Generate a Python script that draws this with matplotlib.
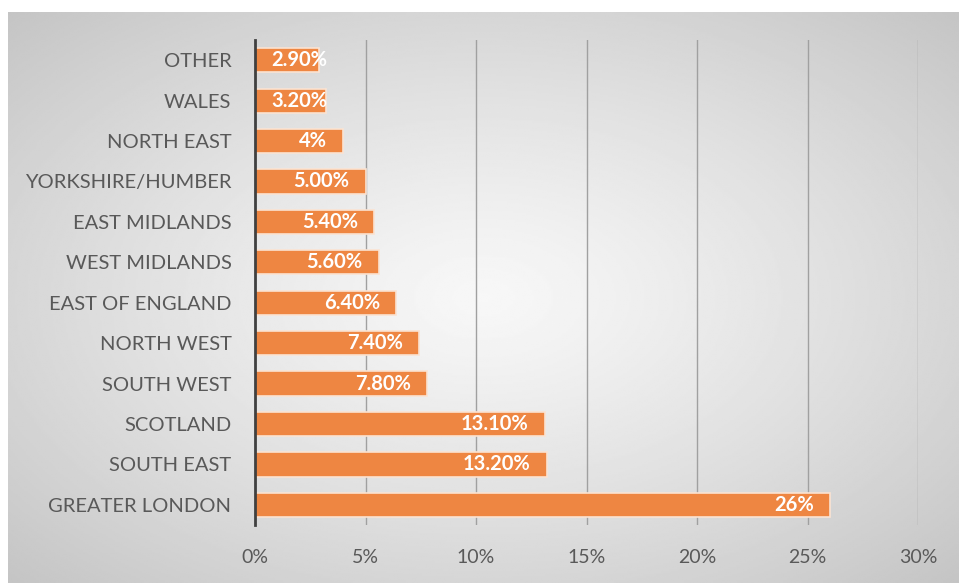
import numpy as np
import matplotlib.pyplot as plt

# regions, top to bottom as shown
regions = ["OTHER", "WALES", "NORTH EAST", "YORKSHIRE/HUMBER", "EAST MIDLANDS",
           "WEST MIDLANDS", "EAST OF ENGLAND", "NORTH WEST", "SOUTH WEST",
           "SCOTLAND", "SOUTH EAST", "GREATER LONDON"]
shares = [2.9, 3.2, 4.0, 5.0, 5.4, 5.6, 6.4, 7.4, 7.8, 13.1, 13.2, 26.0]
labels = ["2.90%", "3.20%", "4%", "5.00%", "5.40%", "5.60%", "6.40%",
          "7.40%", "7.80%", "13.10%", "13.20%", "26%"]
xticks = [0, 5, 10, 15, 20, 25, 30]

plt.rcParams['font.family'] = ['Lato', 'DejaVu Sans']

W, H = 959, 583
fig = plt.figure(figsize=(W / 100, H / 100), dpi=100)
fig.patch.set_facecolor("white")

# radial grey background
bg = fig.add_axes([8 / W, 0, 1 - 8 / W, 1 - 12 / H])
yy, xx = np.mgrid[0:1:300j, 0:1:500j]
r = np.sqrt(((xx - 0.5) / 0.5) ** 2 + ((yy - 0.5) / 0.5) ** 2) / np.sqrt(2)
bg.imshow(0.97 - 0.2 * r ** 1.2, cmap="gray", vmin=0, vmax=1,
          aspect="auto", extent=[0, 1, 0, 1])
bg.axis("off")

ax = fig.add_axes([255 / W, 1 - 525 / H, (918 - 255) / W, (525 - 40) / H])
ax.patch.set_alpha(0)
y = np.arange(len(regions))
ax.barh(y, shares, height=0.6, color="#EE8642", edgecolor="#FBE3D2", linewidth=1.2, zorder=3)

for yi, v, lab in zip(y, shares, labels):
    if v < 3.5:
        ax.annotate(lab, (0, yi), xytext=(16, 0), textcoords="offset pixels",
                    ha="left", va="center", color="white", fontsize=14.5,
                    fontweight="bold", zorder=4)
    else:
        ax.annotate(lab, (v, yi), xytext=(-16, 0), textcoords="offset pixels",
                    ha="right", va="center", color="white", fontsize=14.5,
                    fontweight="bold", zorder=4)

ax.set_xlim(0, 30)
ax.set_ylim(len(regions) - 0.5, -0.5)
ax.set_xticks(xticks)
ax.set_xticklabels([f"{t}%" for t in xticks])
ax.set_yticks(y)
ax.set_yticklabels(regions)
ax.tick_params(length=0, colors="#595959", labelsize=14)
ax.tick_params(axis="y", labelsize=14.5, pad=17)
ax.tick_params(axis="x", pad=17)
ax.grid(axis="x", color="#A0A0A0", linewidth=1, zorder=0)
for s in ["top", "right", "bottom"]:
    ax.spines[s].set_visible(False)
ax.spines["left"].set_color("#404040")
ax.spines["left"].set_linewidth(2)
ax.spines["left"].set_zorder(5)

fig.savefig("out.png", dpi=100)
